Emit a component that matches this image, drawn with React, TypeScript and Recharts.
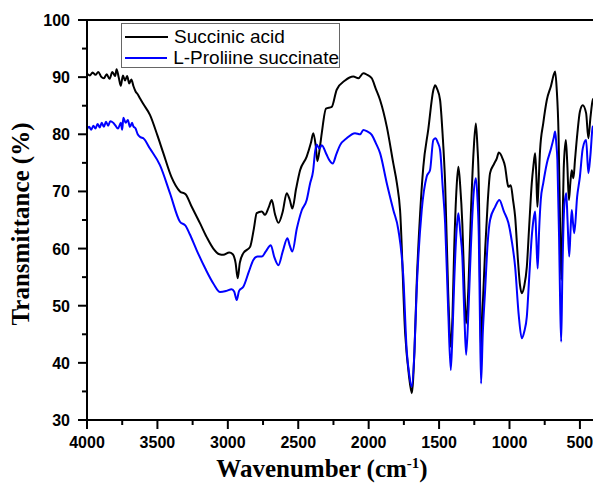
import React from 'react';
import { LineChart, Line, XAxis, YAxis, ReferenceLine, Legend, Label } from 'recharts';

const seriesNames = ['Succinic acid', 'L-Proliine succinate'];
const seriesColors = ['#000000', '#0000FF'];

const succinicWavenumbers = [
  4000, 3980, 3960, 3940, 3920, 3900, 3880, 3860, 3840, 3820, 3800, 3790, 3775, 3760, 3745, 3730, 3715, 3700, 3685, 3670,
  3655, 3640, 3624, 3600, 3553, 3500, 3458, 3400, 3340, 3300, 3260, 3197, 3150, 3103, 3060, 3032, 2990, 2965, 2945, 2930,
  2915, 2890, 2842, 2815, 2795, 2759, 2736, 2710, 2688, 2665, 2641, 2610, 2582, 2560, 2542, 2515, 2487, 2440, 2410, 2393,
  2376, 2364, 2345, 2333, 2303, 2262, 2227, 2168, 2109, 2073, 2038, 2010, 1978, 1950, 1919, 1871, 1825, 1800, 1777, 1741,
  1715, 1694, 1675, 1659, 1635, 1612, 1576, 1541, 1528, 1515, 1493, 1475, 1457, 1435, 1417, 1405, 1393, 1375, 1363, 1350,
  1335, 1320, 1308, 1292, 1275, 1255, 1239, 1228, 1218, 1210, 1202, 1190, 1173, 1155, 1138, 1110, 1090, 1076, 1050, 1031,
  1015, 1008, 991, 975, 960, 940, 925, 913, 895, 877, 860, 842, 830, 818, 810, 802, 795, 783, 760, 735,
  705, 685, 676, 665, 652, 642, 633, 625, 615, 600, 590, 578, 568, 558, 546, 535, 518, 500, 480, 456,
  440, 425, 409, 400
];
const succinicTransmittance = [
  90.6, 90.3, 90.8, 90.4, 90.9, 90.1, 89.8, 90.5, 89.7, 90.9, 90.2, 91.4, 90.0, 88.5, 90.3, 89.4, 90.2, 88.9, 89.6, 88.4,
  87.5, 87.0, 86.3, 85.3, 83.4, 79.8, 76.7, 72.5, 70.0, 69.5, 67.5, 64.4, 62.0, 60.0, 59.0, 58.9, 59.3, 59.0, 57.5, 54.8,
  57.5, 59.2, 60.3, 63.5, 66.2, 66.5, 65.9, 67.2, 68.5, 66.0, 64.5, 66.5, 69.7, 68.5, 67.0, 70.5, 73.7, 76.1, 78.5, 80.2,
  78.0, 75.3, 78.0, 80.2, 84.5, 84.8, 87.8, 89.4, 90.1, 89.8, 90.7, 90.4, 89.8, 88.0, 86.0, 81.3, 74.9, 71.5, 66.7, 45.2,
  38.0, 34.7, 42.0, 53.9, 66.0, 74.3, 81.0, 87.7, 88.6, 88.0, 86.0, 80.0, 71.4, 52.0, 42.8, 48.0, 59.7, 71.0, 74.3, 71.0,
  64.4, 53.0, 46.9, 53.0, 65.6, 77.0, 81.9, 78.0, 71.4, 55.0, 41.4, 50.0, 59.7, 68.0, 73.2, 74.8, 75.8, 76.8, 75.8, 74.3,
  71.5, 70.8, 71.1, 68.5, 65.6, 58.0, 53.5, 52.2, 53.5, 56.8, 64.0, 71.4, 74.5, 76.7, 73.0, 67.3, 70.5, 77.2, 82.0, 86.0,
  88.5, 90.5, 91.0, 88.0, 80.2, 66.0, 54.5, 62.0, 74.0, 79.0, 75.0, 68.5, 71.5, 73.7, 72.3, 75.5, 80.2, 84.0, 85.1, 83.7,
  79.3, 83.0, 86.0, 86.3
];

const prolineWavenumbers = [
  4000, 3985, 3970, 3955, 3940, 3925, 3910, 3895, 3880, 3865, 3850, 3835, 3813, 3800, 3780, 3760, 3750, 3742, 3725, 3710,
  3695, 3680, 3671, 3655, 3640, 3620, 3600, 3553, 3482, 3411, 3340, 3300, 3270, 3221, 3160, 3103, 3055, 3010, 2973, 2955,
  2937, 2920, 2890, 2850, 2819, 2790, 2759, 2730, 2695, 2670, 2641, 2610, 2577, 2560, 2542, 2510, 2475, 2440, 2416, 2395,
  2380, 2369, 2350, 2333, 2300, 2280, 2255, 2230, 2203, 2156, 2097, 2060, 2038, 2010, 1978, 1950, 1919, 1871, 1825, 1789,
  1754, 1730, 1712, 1694, 1675, 1659, 1623, 1588, 1564, 1541, 1524, 1510, 1493, 1475, 1457, 1435, 1417, 1405, 1393, 1375,
  1363, 1350, 1335, 1320, 1308, 1290, 1275, 1255, 1239, 1228, 1218, 1210, 1202, 1190, 1173, 1155, 1138, 1102, 1072, 1040,
  1008, 985, 960, 935, 913, 895, 877, 860, 842, 830, 818, 810, 800, 790, 778, 760, 735, 705, 685, 676,
  668, 660, 648, 640, 633, 625, 612, 597, 588, 576, 566, 558, 549, 540, 520, 500, 480, 456, 440, 425,
  409, 400
];
const prolineTransmittance = [
  80.9, 81.3, 80.8, 81.5, 81.0, 81.8, 81.2, 82.0, 81.3, 82.2, 81.5, 82.3, 82.0, 81.6, 81.0, 82.0, 80.8, 82.9, 82.0, 82.5,
  81.3, 82.0, 81.4, 81.0, 80.0, 79.5, 79.3, 77.5, 74.6, 69.7, 64.7, 64.0, 62.5, 59.7, 56.5, 53.9, 52.4, 52.6, 52.9, 52.5,
  51.0, 52.6, 53.3, 56.0, 58.0, 58.6, 58.6, 59.5, 60.6, 58.5, 57.1, 59.5, 61.8, 60.5, 59.5, 63.5, 66.7, 68.5, 71.4, 73.5,
  77.0, 78.2, 77.5, 78.1, 76.5, 75.5, 74.9, 76.5, 78.1, 79.3, 80.2, 80.0, 80.75, 80.5, 79.9, 78.5, 76.7, 71.4, 66.75, 63.25,
  55.1, 42.2, 38.0, 35.8, 42.0, 52.75, 66.75, 72.6, 73.75, 79.0, 79.3, 78.6, 77.25, 71.0, 64.4, 49.0, 38.75, 45.0, 53.9, 63.5,
  66.2, 63.0, 58.6, 48.0, 41.4, 50.0, 59.7, 69.5, 72.3, 69.0, 62.1, 48.0, 36.4, 45.0, 52.75, 61.0, 65.0, 67.3, 68.5, 66.5,
  64.5, 61.5, 56.8, 48.5, 44.3, 45.5, 48.1, 55.0, 62.1, 65.0, 66.5, 62.0, 56.5, 63.0, 68.5, 71.5, 74.9, 77.5, 79.5, 80.5,
  78.5, 75.5, 62.0, 50.0, 43.7, 55.0, 67.0, 69.7, 65.0, 58.6, 63.5, 66.75, 64.5, 62.7, 69.0, 72.6, 77.5, 79.0, 73.2, 76.5,
  81.3, 81.5
];

const xTicks = [4000, 3750, 3500, 3250, 3000, 2750, 2500, 2250, 2000, 1750, 1500, 1250, 1000, 750, 500];
const yTicks = [30, 35, 40, 45, 50, 55, 60, 65, 70, 75, 80, 85, 90, 95, 100];

const succinicData = succinicWavenumbers.map((w, i) => ({ w, t: succinicTransmittance[i] }));
const prolineData = prolineWavenumbers.map((w, i) => ({ w, t: prolineTransmittance[i] }));

const tickFont = "'Liberation Sans', Arial, sans-serif";
const titleFont = "'Liberation Serif', 'Times New Roman', serif";

const XTick = (props: any) => {
  const { x, y, payload } = props;
  const v = payload.value;
  const major = v % 500 === 0;
  return (
    <g>
      <line x1={x} x2={x} y1={y} y2={y + (major ? 9 : 5)} stroke="#000" strokeWidth={2} />
      {major && (
        <text x={x} y={y + 28} textAnchor="middle" fontFamily={tickFont} fontWeight="bold" fontSize={16} fill="#000">
          {v}
        </text>
      )}
    </g>
  );
};

const YTick = (props: any) => {
  const { x, y, payload } = props;
  const v = payload.value;
  const major = v % 10 === 0;
  return (
    <g>
      <line x1={x} x2={x - (major ? 9 : 5)} y1={y} y2={y} stroke="#000" strokeWidth={2} />
      {major && (
        <text x={x - 17} y={y + 6} textAnchor="end" fontFamily={tickFont} fontWeight="bold" fontSize={16} fill="#000">
          {v}
        </text>
      )}
    </g>
  );
};

const LegendBox = () => (
  <div
    style={{
      border: '1px solid #666',
      background: '#fff',
      width: 219,
      height: 45,
      boxSizing: 'border-box',
      fontFamily: tickFont,
      fontSize: 19,
      lineHeight: '21px',
      paddingTop: 2,
    }}
  >
    {seriesNames.map((n, i) => (
      <div key={n} style={{ display: 'flex', alignItems: 'center', height: 21, whiteSpace: 'nowrap' }}>
        <span style={{ display: 'inline-block', width: 43, height: 2, background: seriesColors[i], marginLeft: 3, marginRight: 6 }} />
        <span>{n}</span>
      </div>
    ))}
  </div>
);

export default function App() {
  return (
    <div style={{ position: 'absolute', left: 0, top: 0, width: 593, height: 483, overflow: 'hidden', background: '#fff' }}>
      <LineChart width={600} height={483} margin={{ top: 20, right: 6, bottom: 33, left: 27 }}>
        <XAxis
          dataKey="w"
          type="number"
          domain={[400, 4000]}
          reversed
          allowDataOverflow
          ticks={xTicks}
          interval={0}
          tickSize={0}
          tickMargin={0}
          tickLine={false}
          tick={<XTick />}
          axisLine={{ stroke: '#000', strokeWidth: 2 }}
          height={30}
        >
          <Label
            content={() => (
              <text x={322} y={477} textAnchor="middle" fontFamily={titleFont} fontWeight="bold" fontSize={25} fill="#000">
                Wavenumber (cm
                <tspan dy={-9} fontSize={15}>-1</tspan>
                <tspan dy={9}>)</tspan>
              </text>
            )}
          />
        </XAxis>
        <YAxis
          type="number"
          domain={[30, 100]}
          ticks={yTicks}
          interval={0}
          allowDataOverflow
          tickSize={0}
          tickMargin={0}
          tickLine={false}
          tick={<YTick />}
          axisLine={{ stroke: '#000', strokeWidth: 2 }}
          width={60}
        >
          <Label
            content={() => (
              <text
                x={29}
                y={224}
                transform="rotate(-90 29 224)"
                textAnchor="middle"
                fontFamily={titleFont}
                fontWeight="bold"
                fontSize={25}
                fill="#000"
                style={{ fill: '#000' }}
              >
                Transmittance (%)
              </text>
            )}
          />
        </YAxis>
        <ReferenceLine y={100} stroke="#000" strokeWidth={2} ifOverflow="visible" />
        <Legend
          layout="horizontal"
          verticalAlign="middle"
          align="center"
          content={() => <LegendBox />}
          wrapperStyle={{ position: 'absolute', left: 121, top: 23, width: 219, height: 45 }}
        />
        <Line
          data={succinicData}
          dataKey="t"
          name={seriesNames[0]}
          type="monotone"
          stroke={seriesColors[0]}
          strokeWidth={2}
          dot={false}
          isAnimationActive={false}
        />
        <Line
          data={prolineData}
          dataKey="t"
          name={seriesNames[1]}
          type="monotone"
          stroke={seriesColors[1]}
          strokeWidth={2}
          dot={false}
          isAnimationActive={false}
        />
      </LineChart>
    </div>
  );
}
